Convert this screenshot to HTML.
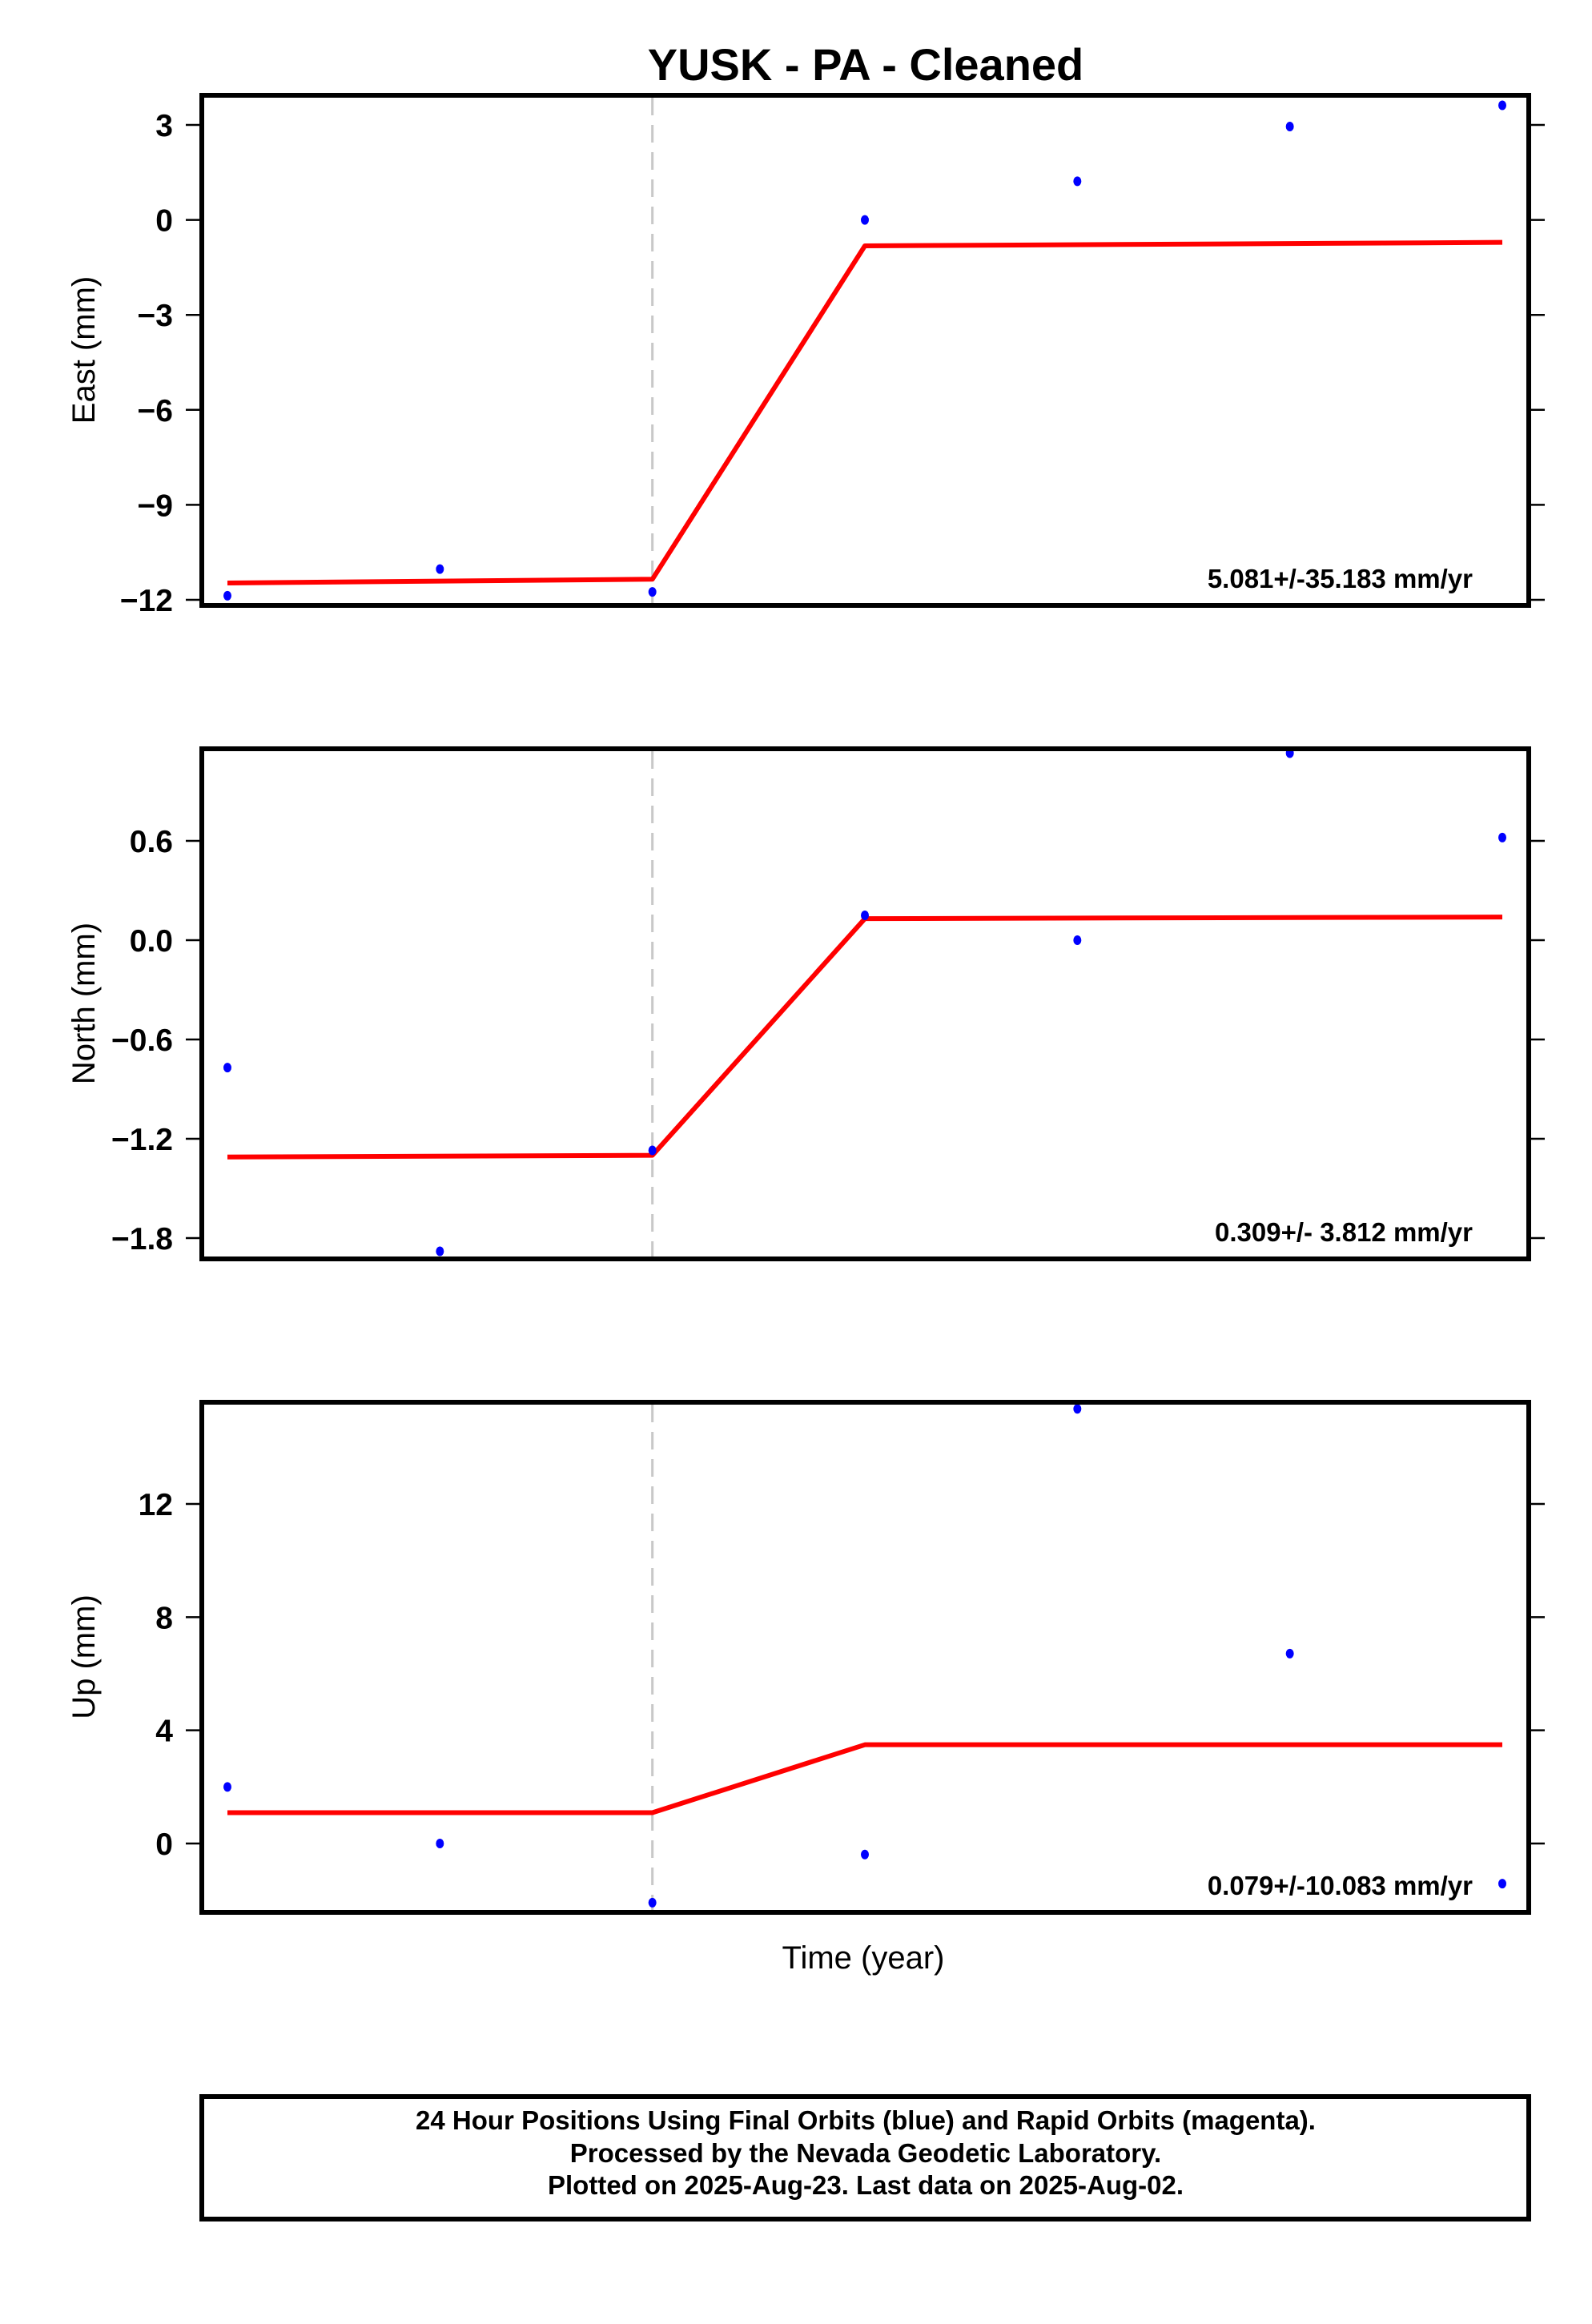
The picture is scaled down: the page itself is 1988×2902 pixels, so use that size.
<!DOCTYPE html>
<html><head><meta charset="utf-8"><style>
html,body{margin:0;padding:0;background:#fff}
svg{display:block}
text{font-family:"Liberation Sans",Arial,sans-serif}
</style></head><body>
<svg id="chart" width="1988" height="2902" viewBox="0 0 1988 2902" xmlns="http://www.w3.org/2000/svg">
<rect width="1988" height="2902" fill="#fff"/>
<text x="1081" y="100" text-anchor="middle" font-size="56" font-weight="bold">YUSK  - PA - Cleaned</text>
<text x="1078" y="2458" text-anchor="middle" font-size="40">Time (year)</text>
<rect x="252" y="2618" width="1657" height="153" fill="none" stroke="#000" stroke-width="6"/>
<text x="1081" y="2659" text-anchor="middle" font-size="33" font-weight="bold">24 Hour Positions Using Final Orbits (blue) and Rapid Orbits (magenta).</text>
<text x="1081" y="2700" text-anchor="middle" font-size="33" font-weight="bold">Processed by the Nevada Geodetic Laboratory.</text>
<text x="1081" y="2740" text-anchor="middle" font-size="33" font-weight="bold">Plotted on 2025-Aug-23. Last data on 2025-Aug-02.</text>
</svg>
<script>
var times = [0, 1, 2, 3, 4, 5, 6];
var eastValues = [-11.87, -11.03, -11.75, 0.0, 1.22, 2.95, 3.62];
var northValues = [-0.77, -1.88, -1.27, 0.15, 0.0, 1.13, 0.62];
var upValues = [2.0, 0.0, -2.09, -0.39, 15.36, 6.71, -1.42];
var fitTimes = [0, 2, 3, 6];
var eastFit = [-11.47, -11.35, -0.82, -0.71];
var northFit = [-1.31, -1.30, 0.13, 0.14];
var upFit = [1.09, 1.09, 3.49, 3.49];
var eastTicks = [3, 0, -3, -6, -9, -12];
var eastTickLabels = ["3", "0", "\u22123", "\u22126", "\u22129", "\u221212"];
var northTicks = [0.6, 0.0, -0.6, -1.2, -1.8];
var northTickLabels = ["0.6", "0.0", "\u22120.6", "\u22121.2", "\u22121.8"];
var upTicks = [12, 8, 4, 0];
var upTickLabels = ["12", "8", "4", "0"];
var breakTime = 2;

var NS = "http://www.w3.org/2000/svg";
var svg = document.getElementById("chart");
function mk(tag, attrs, parent) {
  var e = document.createElementNS(NS, tag);
  for (var k in attrs) e.setAttribute(k, attrs[k]);
  (parent || svg).appendChild(e);
  return e;
}
function xScale(t) { return 284 + (t - 0) * (1876 - 284) / 6; }

var panels = [
  {name: "east", top: 116, v1: 3, p1: 156, v2: -12, p2: 749, vals: eastValues, fit: eastFit, ticks: eastTicks, labels: eastTickLabels, title: "East (mm)", rate: "5.081+/-35.183 mm/yr"},
  {name: "north", top: 932, v1: 0.6, p1: 1050, v2: -1.8, p2: 1546, vals: northValues, fit: northFit, ticks: northTicks, labels: northTickLabels, title: "North (mm)", rate: "0.309+/- 3.812 mm/yr"},
  {name: "up", top: 1748, v1: 12, p1: 1878, v2: 0, p2: 2302, vals: upValues, fit: upFit, ticks: upTicks, labels: upTickLabels, title: "Up (mm)", rate: "0.079+/-10.083 mm/yr"}
];

panels.forEach(function (p) {
  var g = mk("g", {});
  
  
  var yScale = function (v) { return p.p1 + (v - p.v1) * (p.p2 - p.p1) / (p.v2 - p.v1); };
  var top = p.top, bot = p.top + 643;
  var clipId = "clip-" + p.name;
  var cp = mk("clipPath", {id: clipId}, g);
  mk("rect", {x: 255, y: top + 6, width: 1651, height: 631}, cp);
  // break line
  var bl = mk("line", {x1: xScale(breakTime), x2: xScale(breakTime), y1: top + 6, y2: bot - 6, stroke: "#c8c8c8", "stroke-width": 3, "stroke-dasharray": "22,12"}, g);
  
  
  // fit line
  var pts = fitTimes.map(function (t, i) { return xScale(t) + "," + yScale(p.fit[i]); }).join(" ");
  var fl = mk("polyline", {points: pts, fill: "none", stroke: "#ff0000", "stroke-width": 6, "stroke-linejoin": "round"}, g);
  
  
  // points
  var pg = mk("g", {"clip-path": "url(#" + clipId + ")"}, g);
  times.forEach(function (t, i) {
    var c = mk("ellipse", {cx: xScale(t), cy: yScale(p.vals[i]), rx: 5, ry: 6, fill: "#0000ff"}, pg);
    
    
  });
  // frame
  var fr = mk("rect", {x: 252, y: top + 3, width: 1657, height: 637, fill: "none", stroke: "#000", "stroke-width": 6}, g);
  
  
  // ticks
  p.ticks.forEach(function (v, i) {
    var y = yScale(v);
    mk("line", {x1: 232, x2: 250, y1: y, y2: y, stroke: "#000", "stroke-width": 2.5}, g);
    mk("line", {x1: 1911, x2: 1929, y1: y, y2: y, stroke: "#000", "stroke-width": 2.5}, g);
    var tl = mk("text", {x: 216, y: y + 14, "text-anchor": "end", "font-size": 39, "font-weight": "bold"}, g);
    
    
    tl.textContent = p.labels[i];
  });
  var cy = top + 321;
  var yt = mk("text", {x: 0, y: 0, "text-anchor": "middle", "font-size": 40, transform: "translate(118," + cy + ") rotate(-90)"}, g);
  
  
  yt.textContent = p.title;
  var rt = mk("text", {x: 1839, y: bot - 25, "text-anchor": "end", "font-size": 33, "font-weight": "bold"}, g);
  
  
  rt.textContent = p.rate;
});
</script>
</body></html>
